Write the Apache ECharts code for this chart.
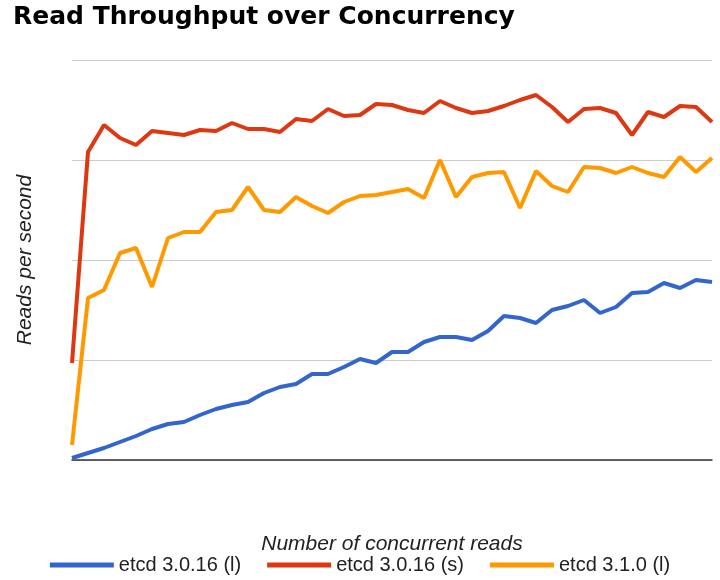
<!DOCTYPE html>
<html><head><meta charset="utf-8">
<script src="https://cdn.jsdelivr.net/npm/echarts@6/dist/echarts.min.js"></script>
<style>body{margin:0}#c{width:720px;height:580px}</style></head>
<body><div id="c"></div>
<script>
const categories = Array.from({length:41},(_, i)=>String(i+1));
const blueL = [0.02,0.07,0.12,0.18,0.24,0.31,0.36,0.38,0.45,0.51,0.55,0.58,0.67,0.73,0.76,0.86,0.86,0.93,1.01,0.97,1.08,1.08,1.18,1.23,1.23,1.20,1.29,1.44,1.42,1.37,1.50,1.54,1.60,1.47,1.53,1.67,1.68,1.77,1.72,1.80,1.78];
const redS = [0.97,3.08,3.35,3.22,3.15,3.29,3.27,3.25,3.30,3.29,3.37,3.31,3.31,3.28,3.41,3.39,3.51,3.44,3.45,3.56,3.55,3.50,3.47,3.59,3.52,3.47,3.49,3.54,3.60,3.65,3.53,3.38,3.51,3.52,3.47,3.25,3.48,3.43,3.54,3.53,3.38];
const orangeL = [0.15,1.62,1.70,2.07,2.12,1.73,2.22,2.28,2.28,2.48,2.50,2.73,2.50,2.48,2.63,2.54,2.47,2.58,2.64,2.65,2.68,2.71,2.62,3.00,2.63,2.83,2.87,2.88,2.52,2.89,2.74,2.68,2.93,2.92,2.87,2.93,2.87,2.83,3.03,2.88,3.02];
const names = ['etcd 3.0.16 (l)','etcd 3.0.16 (s)','etcd 3.1.0 (l)'];
const chart = echarts.init(document.getElementById('c'));
const mk=(n,d,c)=>({name:n,type:'line',data:d,symbol:'none',lineStyle:{width:4,color:c},itemStyle:{color:c}});
chart.setOption({
  animation:false,
  title:{text:'Read Throughput over Concurrency',left:8,top:0,textStyle:{fontFamily:'DejaVu Sans',fontWeight:'bold',fontSize:25,color:'#000'}},
  grid:{left:72,right:8,top:60,bottom:120},
  legend:{bottom:0,left:'center',itemWidth:64,itemHeight:5,itemGap:26,icon:'rect',textStyle:{fontFamily:'Liberation Sans',fontSize:20,color:'#222'},data:names},
  xAxis:{type:'category',data:categories,boundaryGap:false,name:'Number of concurrent reads',nameLocation:'middle',nameGap:74,
    nameTextStyle:{fontFamily:'Liberation Sans',fontStyle:'italic',fontSize:21,color:'#222'},
    axisLine:{lineStyle:{color:'#333',width:1.5}},axisTick:{show:false},axisLabel:{show:false}},
  yAxis:{type:'value',min:0,max:4,interval:1,name:'Reads per second',nameLocation:'middle',nameGap:36,
    nameTextStyle:{fontFamily:'Liberation Sans',fontStyle:'italic',fontSize:21,color:'#222'},
    axisLabel:{show:false},axisLine:{show:false},axisTick:{show:false},splitLine:{lineStyle:{color:'#ccc'}}},
  series:[mk(names[0],blueL,'#3366cc'),mk(names[1],redS,'#dc3912'),mk(names[2],orangeL,'#ff9900')]
});
</script></body></html>
